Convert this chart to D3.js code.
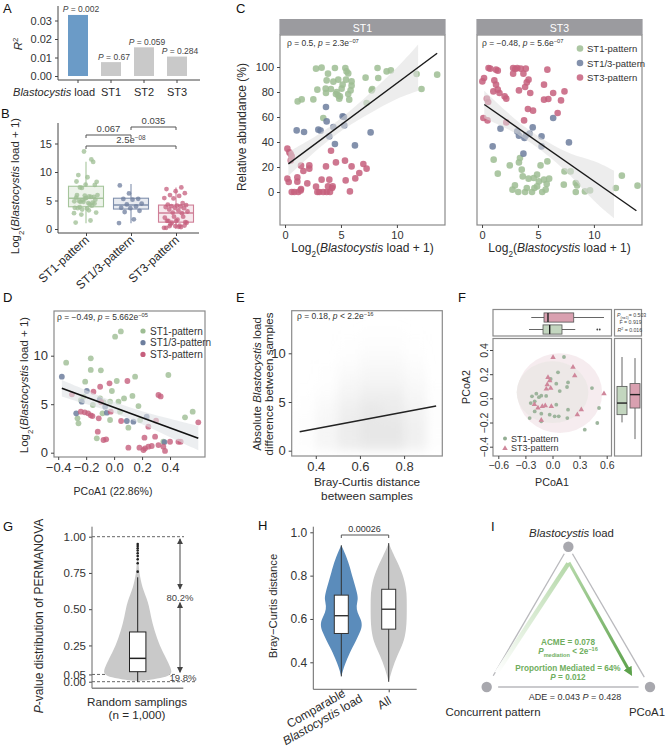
<!DOCTYPE html>
<html><head><meta charset="utf-8">
<script src="https://cdn.jsdelivr.net/npm/d3@7"></script>
<style>body{margin:0;background:#fff}</style>
</head><body>
<script>
const FONT = '"Liberation Sans", Arial, Helvetica, sans-serif'
const GREEN = "#9dbd93", BLUE = "#6d7e9e", RED = "#c65f7d"

// ---------- data ----------
// A
const aCats = ["Blastocystis load", "ST1", "ST2", "ST3"]
const aR2 = [0.033, 0.0075, 0.0155, 0.0105]
const aP = ["0.002", "0.67", "0.059", "0.284"]
// B
const bGroups = ["ST1-pattern", "ST1/3-pattern", "ST3-pattern"]
const bQ1 = [3.9, 3.5, 1.2], bMed = [5.4, 4.2, 2.8], bQ3 = [7.5, 5.4, 4.2]
const bLo = [1.0, 1.0, 0.0], bHi = [11.8, 7.9, 7.3]
const bComps = [[0, 1, "0.067"], [1, 2, "0.035"], [0, 2, "2.5e"]]
// C, facet ST1: [load, relative abundance]
const c1Green = [[2.77,98.7],[3.27,99.5],[3.84,94.7],[4.46,99.2],[5.39,99.2],[5.5,96.5],[5.65,94.9],[7.2,91.5],[8.27,99.2],[9.08,96.5],[9.46,97.3],[11.76,94.4],[13.6,93.9],[3.72,89.3],[4.32,88.3],[4.76,89.9],[5.15,85.9],[5.45,89.9],[5.95,88.5],[4.1,82.4],[5.06,82.7],[5.95,85.1],[4.55,78.4],[4.91,76.5],[5.65,78.4],[5.86,81.3],[1.13,72.5],[1.49,74.1],[2.53,74.1],[2.89,81.9],[3.63,82.7],[3.66,79.2],[4.61,80],[4.76,77.3],[4.85,74.7],[5.74,73.9],[7.29,71.2],[7.74,81.3],[7.8,82.4],[8.33,91.2],[12.2,82.4],[3.42,59.2]]
const c1Blue = [[1.04,49.3],[1.7,48],[2.98,49.9],[3.18,49.1],[3.66,68],[3.72,56.5],[3.96,44.5],[4.32,52],[4.46,38.4],[5.15,60.5],[5.27,60],[5.3,53.3],[6.25,37.3],[7.65,47.7]]
const c1Red = [[0.21,34.7],[0.39,31.7],[0.51,30.4],[0.6,28.5],[0.51,25.3],[0.21,10.7],[0.33,8],[1.1,11.7],[1.1,8.3],[1.64,16.8],[1.43,21.1],[2.17,21.3],[2.17,18.7],[1.99,6.9],[0.6,0],[0.83,0],[1.19,0],[1.4,1.3],[1.43,2.4],[2.77,4.3],[2.89,0],[3.07,0],[3.27,9.9],[3.42,0],[3.66,20.5],[3.72,0],[3.84,4.5],[3.96,9.9],[4.02,0],[4.2,3.2],[4.11,33],[4.26,4.5],[4.55,23.7],[5.36,25.1],[5.42,9.3],[5.8,0.5],[5.95,20.5],[6.28,10.9],[6.64,15.2],[7.0,22.4],[7.29,18.7]]
const c1Line = [[0.3, 22.5], [13.6, 111]]
const c1Band = [[0.3,13,32],[2,27,40.5],[4,42.5,51.7],[6,55,66],[8,65,82.5],[10,75,99],[11.9,81,118]]
// C, facet ST3
const c3Green = [[1.04,25.9],[1.41,14.7],[2.48,21.3],[3.3,23.7],[3.39,27.2],[3.55,17.9],[3.64,12.5],[4.16,10.7],[4.62,11.2],[4.92,13.9],[5.08,8.5],[5.84,24.5],[5.54,9.9],[5.78,6.4],[6.0,10.7],[5.23,21.3],[2.72,1.9],[2.94,5.3],[3.24,0],[3.85,0],[4.0,3.2],[4.47,0],[4.68,3.2],[4.92,4.5],[5.38,0],[5.69,1.9],[7.31,5.9],[7.37,16.5],[7.92,16.5],[8.38,7.2],[8.38,0],[9.2,0.5],[9.66,1.3],[11.96,3.2],[12.5,13.1],[13.9,5.1],[8.5,5.3]]
const c3Blue = [[1.65,50.7],[0.95,36.5],[3.15,48.5],[3.3,45.1],[3.79,43.2],[3.91,45.1],[4.25,46.7],[4.53,51.7],[5.32,44.5],[5.32,36.5],[3.7,30.7],[7.77,39.7],[6.36,59.2]]
const c3Red = [[0.58,99.2],[0.73,98.7],[1.25,97.9],[1.41,97.1],[0.18,91.2],[0.03,88.5],[1.1,89.3],[1.25,85.9],[1.01,80.5],[1.41,81.9],[1.56,79.2],[2.02,76.5],[2.17,74.7],[0.43,74.7],[0.55,72],[0.12,59.2],[0.49,57.3],[2.78,99.2],[2.97,98.4],[3.15,99.2],[3.46,98.7],[3.91,98.7],[2.78,94.7],[3.7,94.7],[4.0,87.7],[4.16,89.9],[3.3,81.3],[3.85,84],[4.31,79.2],[5.84,97.9],[5.54,85.9],[5.54,73.9],[5.93,74.4],[6.36,79.2],[7.06,73.3],[7.37,80.5],[6.76,63.2],[4.1,66.4],[4.56,65.1],[3.76,57.3],[2.17,55.7]]
const c3Line = [[0.2, 70], [13.8, -15]]
const c3Band = [[0.2,59,81],[2,52,65.5],[4,42,50.5],[6,28.5,39],[8,13,29.5],[10,-8,25.5],[11.8,-21,17]]
const legendNames = ["ST1-pattern", "ST1/3-pattern", "ST3-pattern"]
// D: [PCoA1, log2 load]
const dGreen = [[0.007,11.96],[0.048,12.5],[-0.343,9.28],[-0.167,9.73],[-0.167,8.53],[-0.095,8.49],[-0.207,7.32],[0.019,7.39],[0.15,7.84],[0.388,8.01],[-0.238,5.43],[-0.152,4.92],[-0.1,5.6],[-0.076,5.2],[-0.029,5.26],[0.031,5.26],[0.071,5.6],[0.131,5.85],[0.174,4.81],[-0.083,4.06],[-0.029,3.37],[-0.262,3.54],[-0.255,3.03],[-0.124,1.48],[0.102,2.58],[0.043,4.23],[0.186,3.37],[0.507,3.65],[0.562,4.23],[0.352,1.13],[-0.016,6.36],[-0.219,5.77]]
const dBlue = [[-0.374,7.84],[-0.195,6.36],[-0.231,5.26],[-0.271,4.06],[-0.105,5.43],[-0.064,4.74],[-0.052,4.13],[0.091,3.27],[0.138,3.2],[0.233,3.71],[0.36,1.1]]
const dRed = [[-0.302,6.02],[-0.238,4.23],[-0.21,4.16],[-0.186,4.06],[-0.167,3.85],[-0.155,3.78],[-0.1,6.8],[-0.033,7.15],[0.095,7.39],[-0.148,6.29],[-0.093,5.2],[-0.11,3.54],[-0.117,2.17],[-0.076,1.31],[-0.057,1.38],[0.05,3.27],[-0.024,4.23],[0.102,0.52],[0.181,0.52],[0.21,0.28],[0.221,0.45],[0.245,0.62],[0.269,0.69],[0.317,0.79],[0.352,0.62],[0.364,0.18],[0.217,1.55],[0.293,1.65],[0.4,1.13],[0.46,1.13],[0.476,1.13],[0.317,5.95],[0.333,5.8],[0.3,3.3],[0.245,2.68],[0.602,3.13]]
const dLine = [[-0.374, 6.64], [0.602, 1.48]]
const dBand = [[-0.374,5.8,7.5],[-0.2,5.0,6.45],[0,4.15,5.2],[0.2,2.95,4.25],[0.4,1.6,3.5],[0.602,0.25,2.75]]
// E: density of the pairwise cloud, rows y = 0.5 .. 12.5, columns x = 0.35 .. 0.95
const eXc = [0.35, 0.45, 0.55, 0.65, 0.75, 0.85, 0.95]
const eYc = [0.5, 1.5, 2.5, 3.5, 4.5, 5.5, 6.5, 7.5, 8.5, 9.5, 10.5, 11.5, 12.5]
const eDens = [
  [0.25,0.6,0.85,0.95,0.95,0.75,0.25],
  [0.3,0.65,0.9,1,1,0.8,0.3],
  [0.3,0.6,0.9,1,1,0.8,0.3],
  [0.25,0.55,0.85,1,0.95,0.75,0.25],
  [0.2,0.5,0.8,0.95,0.9,0.7,0.25],
  [0.15,0.4,0.7,0.85,0.85,0.6,0.2],
  [0.1,0.3,0.6,0.75,0.75,0.55,0.15],
  [0.05,0.2,0.5,0.65,0.65,0.45,0.1],
  [0.05,0.15,0.4,0.55,0.55,0.4,0.1],
  [0,0.1,0.3,0.45,0.45,0.3,0.05],
  [0,0.05,0.2,0.35,0.35,0.2,0.05],
  [0,0,0.15,0.3,0.3,0.15,0],
  [0,0,0.1,0.2,0.2,0.1,0]]
const eLine = [[0.327, 1.95], [0.945, 4.6]]
// F: [PCoA1, PCoA2]
const fST1 = [[0.127,0.342],[0.061,0.215],[0.172,0.132],[0.161,0.094],[0.042,0.121],[0.437,0.085],[-0.179,0.039],[-0.124,0.022],[-0.227,0.017],[-0.241,-0.039],[-0.197,-0.025],[-0.15,0.01],[-0.07,0.02],[0.042,-0.052],[0.172,-0.094],[0.515,-0.08],[-0.197,-0.108],[-0.124,-0.127],[-0.031,-0.135],[0.024,-0.149],[0.069,-0.149],[-0.253,-0.163],[-0.124,-0.19],[0.164,-0.163],[0.357,-0.259],[0.496,-0.204],[-0.02,0.16],[0.08,0.06]]
const fST3 = [[0.006,0.339],[0.227,0.259],[-0.05,0.174],[-0.031,0.146],[-0.058,0.113],[-0.02,0.085],[-0.069,0.077],[0.246,0.188],[0.57,0.039],[-0.161,-0.08],[-0.113,-0.066],[-0.08,-0.06],[-0.013,-0.066],[0.319,-0.094],[0.275,-0.135],[-0.124,-0.18],[-0.2,-0.05]]
const fEllipses = [[0.08, 0.044, 0.47, 0.33, "#f6ebee"], [0.0, 0.051, 0.397, 0.255, "#ece8e6"]]
const fTopBox = [[-0.105,-0.031,0.105,-0.26,0.252], [-0.094,-0.05,0.235,-0.235,0.57]]
const fTopOut = [0.496, 0.523]
const fRightBox = [[-0.135,-0.039,0.099,-0.199,0.342], [-0.08,0.031,0.122,-0.337,0.333]]
const fStats = ["= 0.503", "F = 0.919", "= 0.016"]
// G
const gDens = [[0.005,0],[0.012,0.35],[0.03,0.8],[0.05,0.97],[0.07,1.0],[0.1,0.96],[0.15,0.86],[0.2,0.75],[0.25,0.65],[0.3,0.57],[0.35,0.5],[0.4,0.44],[0.45,0.39],[0.5,0.35],[0.55,0.3],[0.6,0.22],[0.65,0.14],[0.7,0.09],[0.75,0.05],[0.8,0.03],[0.85,0.02],[0.9,0.012],[0.95,0]]
const gBox = [0.069, 0.161, 0.343, 0.0, 0.72]
const gOut = [0.95, 0.936, 0.92, 0.905, 0.886, 0.867, 0.844, 0.817, 0.759]
const gArrows = [[0.985, 0.64], [0.545, 0.065]]
// H
const hCats = ["Comparable", "All"]
const hDensBlue = [[0.335,0],[0.37,0.1],[0.4,0.21],[0.46,0.48],[0.5,0.7],[0.54,0.9],[0.572,1.0],[0.6,0.93],[0.63,0.76],[0.66,0.71],[0.69,0.8],[0.72,0.76],[0.78,0.57],[0.85,0.38],[0.9,0.19],[0.94,0]]
const hDensGray = [[0.31,0],[0.37,0.17],[0.43,0.4],[0.49,0.71],[0.55,0.83],[0.6,0.86],[0.66,0.86],[0.72,0.86],[0.77,0.77],[0.82,0.62],[0.88,0.32],[0.92,0.13],[0.95,0]]
const hBoxes = [[0.533, 0.615, 0.71, 0.335, 0.94], [0.553, 0.645, 0.737, 0.31, 0.95]]
// I: nodes in unit coordinates
const iNodes = [["top", 0.5, 1], ["left", 0, 0], ["right", 1, 0]]
const iArrow = [[0.06, 0.1], [0.5, 0.88], [0.88, 0.1]]

// ---------- helpers ----------
const svg = d3.select("body").append("svg").attr("width", 666).attr("height", 748)
  .style("font-family", FONT)
const defs = svg.append("defs")

function T(p, x, y, fs, o = {}) {
  const t = p.append("text").attr("x", x).attr("y", y).attr("font-size", fs).attr("fill", o.fill || "#2a2a2a")
  if (o.anchor) t.attr("text-anchor", o.anchor)
  if (o.rotate) t.attr("transform", `rotate(${o.rotate},${x},${y})`)
  if (o.weight) t.attr("font-weight", o.weight)
  return t
}
function rich(t, parts) {
  parts.forEach(p => {
    const [s, k] = typeof p === "string" ? [p, ""] : p
    const ts = t.append("tspan").text(s)
    if (k === "i") ts.attr("font-style", "italic")
    if (k === "sub") ts.attr("font-size", "68%").attr("baseline-shift", "sub")
    if (k === "sup") ts.attr("font-size", "68%").attr("baseline-shift", "super")
  })
  return t
}
function axis(g, ax, fs) {
  g.call(ax)
  g.attr("font-family", FONT).attr("font-size", fs)
  g.select(".domain").remove()
  g.selectAll(".tick line").attr("stroke", "#444")
  g.selectAll(".tick text").attr("fill", "#333")
  return g
}
function seg(p, x1, y1, x2, y2, c = "#444", w = 1) {
  return p.append("line").attr("x1", x1).attr("y1", y1).attr("x2", x2).attr("y2", y2).attr("stroke", c).attr("stroke-width", w)
}
function frame(p, x0, y0, x1, y1) {
  p.append("rect").attr("x", x0).attr("y", y0).attr("width", x1 - x0).attr("height", y1 - y0)
    .attr("fill", "none").attr("stroke", "#8a8a8a").attr("stroke-width", 1.2)
}
function dots(p, data, x, y, col, r, op) {
  p.append("g").selectAll("circle").data(data).join("circle")
    .attr("cx", d => x(d[0])).attr("cy", d => y(d[1])).attr("r", r).attr("fill", col).attr("opacity", op)
}
const letters = [["A", 3, 13], ["B", 1, 118], ["C", 236, 13], ["D", 3, 302], ["E", 236, 302], ["F", 458, 302], ["G", 3, 531], ["H", 258, 530], ["I", 491, 531]]
letters.forEach(l => T(svg, l[1], l[2], 13, { fill: "#111" }).text(l[0]))

// ---------- A ----------
{
  const g = svg.append("g")
  const x = d3.scaleBand().domain(aCats).range([61.5, 193.5]).paddingInner(0.394).paddingOuter(0.197)
  const y = d3.scaleLinear().domain([-0.00216, 0.0373]).range([80, 7])
  g.selectAll("rect").data(aCats).join("rect")
    .attr("x", d => x(d)).attr("width", x.bandwidth())
    .attr("y", (d, i) => y(aR2[i])).attr("height", (d, i) => y(0) - y(aR2[i]))
    .attr("fill", (d, i) => i ? "#c9c9c9" : "#6b9bc7")
  axis(g.append("g").attr("transform", "translate(58,0)"),
    d3.axisLeft(y).tickValues([0, .01, .02, .03]).tickFormat(d3.format(".2f")).tickSize(3), 11)
  axis(g.append("g").attr("transform", "translate(0,80)"), d3.axisBottom(x).tickSize(3).tickFormat(""), 11)
  seg(g, 58, 6, 58, 80); seg(g, 58, 80, 200, 80)
  aCats.forEach((c, i) => {
    const cx = x(c) + x.bandwidth() / 2
    rich(T(g, cx + 3, y(aR2[i]) - 2.5, 8.5, { anchor: "middle", fill: "#444" }), [["P", "i"], " = " + aP[i]])
    if (i === 0) rich(T(g, 95, 96, 11, { anchor: "end" }), [["Blastocystis", "i"], " load"])
    else T(g, cx, 96, 11, { anchor: "middle" }).text(c)
  })
  rich(T(g, 22, 44, 11.5, { anchor: "middle", rotate: -90 }), [["R", "i"], ["2", "sup"]])
}

// ---------- B ----------
{
  const g = svg.append("g")
  const x = d3.scalePoint().domain(bGroups).range([86, 176])
  const y = d3.scaleLinear().domain([0, 15]).range([229, 143.5])
  const cols = [GREEN, BLUE, RED], fills = ["#edf3ea", "#e8ebf1", "#f7e8ed"], strokes = ["#a6c59c", "#8090ad", "#cf7f97"]
  const groups = [c1Green, c1Blue, c1Red]
  bGroups.forEach((name, i) => {
    const cx = x(name), w = 17.5
    seg(g, cx, y(bHi[i]), cx, y(bQ3[i]), strokes[i], 1.1)
    seg(g, cx, y(bQ1[i]), cx, y(bLo[i]), strokes[i], 1.1)
    g.append("rect").attr("x", cx - w).attr("width", 2 * w).attr("y", y(bQ3[i])).attr("height", y(bQ1[i]) - y(bQ3[i]))
      .attr("fill", fills[i]).attr("stroke", strokes[i]).attr("stroke-width", 1.1)
    seg(g, cx - w, y(bMed[i]), cx + w, y(bMed[i]), strokes[i], 1.4)
    g.append("g").selectAll("circle").data(groups[i]).join("circle")
      .attr("cx", (d, j) => cx + ((j * 0.618034) % 1 - 0.5) * 24)
      .attr("cy", d => y(d[0])).attr("r", 2.4).attr("fill", cols[i]).attr("opacity", 0.75)
  })
  axis(g.append("g").attr("transform", "translate(58,0)"), d3.axisLeft(y).tickValues([0, 5, 10, 15]).tickSize(3), 11)
  axis(g.append("g").attr("transform", "translate(0,233)"), d3.axisBottom(x).tickSize(3).tickFormat(""), 11)
  seg(g, 58, 123, 58, 233); seg(g, 58, 233, 199, 233)
  bGroups.forEach(n => T(g, x(n) + 4, 241, 12, { anchor: "end", rotate: -42 }).text(n))
  const by = [135, 127, 146], ly = [131.5, 123.8, 143]
  bComps.forEach((c, i) => {
    const x1 = x(bGroups[c[0]]), x2 = x(bGroups[c[1]])
    g.append("path").attr("d", `M${x1},${by[i] + 3}V${by[i]}H${x2}V${by[i] + 3}`).attr("fill", "none").attr("stroke", "#555").attr("stroke-width", 1)
    const t = T(g, (x1 + x2) / 2, ly[i], 9.5, { anchor: "middle", fill: "#444" })
    if (i === 2) rich(t, [c[2], ["−08", "sup"]]); else t.text(c[2])
  })
  rich(T(g, 19, 186, 11.5, { anchor: "middle", rotate: -90 }), ["Log", ["2", "sub"], "(", ["Blastocystis", "i"], " load + 1)"])
}

// ---------- C ----------
{
  const g = svg.append("g")
  const y = d3.scaleLinear().domain([0, 100]).range([192, 67])
  const facets = [
    { x0: 280, x1: 445, name: "ST1", pts: [c1Green, c1Blue, c1Red], line: c1Line, band: c1Band },
    { x0: 477, x1: 642, name: "ST3", pts: [c3Green, c3Blue, c3Red], line: c3Line, band: c3Band }]
  const cols = [GREEN, BLUE, RED]
  facets.forEach((f, k) => {
    const x = d3.scaleLinear().domain([-0.45, 14.3]).range([f.x0, f.x1])
    const p = g.append("g")
    p.append("defs").append("clipPath").attr("id", "clipC" + k).append("rect").attr("x", f.x0).attr("y", 35).attr("width", f.x1 - f.x0).attr("height", 190)
    const inner = p.append("g").attr("clip-path", `url(#clipC${k})`)
    f.pts.forEach((pts, i) => dots(inner, pts, x, y, cols[i], 3.3, 0.85))
    inner.append("path").datum(f.band).attr("fill", "#dedede").attr("opacity", 0.55)
      .attr("d", d3.area().x(d => x(d[0])).y0(d => y(d[1])).y1(d => y(d[2])).curve(d3.curveBasis))
    inner.append("path").datum(f.line).attr("stroke", "#1a1a1a").attr("stroke-width", 1.4).attr("fill", "none")
      .attr("d", d3.line().x(d => x(d[0])).y(d => y(d[1])))
    frame(p, f.x0, 35, f.x1, 225)
    p.append("rect").attr("x", f.x0 - 0.6).attr("y", 19).attr("width", f.x1 - f.x0 + 1.2).attr("height", 16).attr("fill", "#9b9b9f")
    T(p, (f.x0 + f.x1) / 2, 31.5, 10.5, { anchor: "middle", fill: "#fff" }).text(f.name)
    axis(p.append("g").attr("transform", "translate(0,225)"), d3.axisBottom(x).tickValues([0, 5, 10]).tickSize(3), 11)
    rich(T(p, (f.x0 + f.x1) / 2, 252, 12, { anchor: "middle" }), ["Log", ["2", "sub"], "(", ["Blastocystis", "i"], " load + 1)"])
    if (k === 0) {
      axis(p.append("g").attr("transform", `translate(${f.x0},0)`), d3.axisLeft(y).tickValues([0, 20, 40, 60, 80, 100]).tickSize(3), 11)
      rich(T(p, f.x0 + 7, 46, 8.5, { fill: "#333" }), ["ρ = 0.5, ", ["p", "i"], " = 2.3e", ["−07", "sup"]])
    } else {
      rich(T(p, f.x0 + 5, 46, 8.5, { fill: "#333" }), ["ρ = −0.48, ", ["p", "i"], " = 5.6e", ["−07", "sup"]])
      legendNames.forEach((n, i) => {
        p.append("circle").attr("cx", 580).attr("cy", 48.5 + i * 14.5).attr("r", 3.3).attr("fill", cols[i]).attr("opacity", 0.85)
        T(p, 587, 52 + i * 14.5, 9.5, { fill: "#333" }).text(n)
      })
    }
  })
  T(g, 246, 127, 12, { anchor: "middle", rotate: -90 }).text("Relative abundance (%)")
}

// ---------- D ----------
{
  const g = svg.append("g")
  const x = d3.scaleLinear().domain([-0.43, 0.65]).range([54, 205])
  const y = d3.scaleLinear().domain([0, 10]).range([452.7, 355.7])
  g.append("defs").append("clipPath").attr("id", "clipD").append("rect").attr("x", 54).attr("y", 311).attr("width", 151).attr("height", 146)
  const inner = g.append("g").attr("clip-path", "url(#clipD)")
  dots(inner, dGreen, x, y, GREEN, 2.9, 0.8)
  dots(inner, dBlue, x, y, BLUE, 2.9, 0.85)
  dots(inner, dRed, x, y, RED, 2.9, 0.8)
  inner.append("path").datum(dBand).attr("fill", "#dfe3e6").attr("opacity", 0.6)
    .attr("d", d3.area().x(d => x(d[0])).y0(d => y(d[1])).y1(d => y(d[2])).curve(d3.curveBasis))
  inner.append("path").datum(dLine).attr("stroke", "#111").attr("stroke-width", 1.6)
    .attr("d", d3.line().x(d => x(d[0])).y(d => y(d[1])))
  frame(g, 54, 311, 205, 457)
  axis(g.append("g").attr("transform", "translate(0,457)"), d3.axisBottom(x).tickValues([-0.4, -0.2, 0, 0.2, 0.4]).tickFormat(d3.format(".1f")).tickSize(3), 13)
  axis(g.append("g").attr("transform", "translate(54,0)"), d3.axisLeft(y).tickValues([0, 5, 10]).tickSize(3), 13)
  rich(T(g, 57, 320, 8.5, { fill: "#333" }), ["ρ = −0.49, ", ["p", "i"], " = 5.662e", ["−05", "sup"]])
  const cols = [GREEN, BLUE, RED]
  legendNames.forEach((n, i) => {
    g.append("circle").attr("cx", 143).attr("cy", 331 + i * 11.7).attr("r", 2.6).attr("fill", cols[i])
    T(g, 150, 334.5 + i * 11.7, 10, { fill: "#333" }).text(n)
  })
  T(g, 113, 495, 10.5, { anchor: "middle" }).text("PCoA1 (22.86%)")
  rich(T(g, 28, 385, 11.5, { anchor: "middle", rotate: -90 }), ["Log", ["2", "sub"], "(", ["Blastocystis", "i"], " load + 1)"])
}

// ---------- E ----------
{
  const g = svg.append("g")
  const x = d3.scaleLinear().domain([0.291, 0.973]).range([291.7, 442.3])
  const y = d3.scaleLinear().domain([0, 10]).range([450.7, 353.3])
  defs.append("filter").attr("id", "blurE").attr("x", "-20%").attr("y", "-20%").attr("width", "140%").attr("height", "140%")
    .append("feGaussianBlur").attr("stdDeviation", 5)
  g.append("defs").append("clipPath").attr("id", "clipE").append("rect").attr("x", 291.7).attr("y", 310.7).attr("width", 150.6).attr("height", 145.3)
  const inner = g.append("g").attr("clip-path", "url(#clipE)")
  const cloud = inner.append("g").attr("filter", "url(#blurE)")
  eDens.forEach((row, r) => row.forEach((v, c) => {
    cloud.append("rect").attr("x", x(eXc[c] - 0.05)).attr("width", x(eXc[c] + 0.05) - x(eXc[c] - 0.05))
      .attr("y", y(eYc[r] + 0.5)).attr("height", y(eYc[r] - 0.5) - y(eYc[r] + 0.5))
      .attr("fill", "#e3e3e3").attr("opacity", v * v * 0.85)
  }))
  inner.append("path").datum(eLine).attr("stroke", "#222").attr("stroke-width", 1.5)
    .attr("d", d3.line().x(d => x(d[0])).y(d => y(d[1])))
  frame(g, 291.7, 310.7, 442.3, 456)
  axis(g.append("g").attr("transform", "translate(0,456)"), d3.axisBottom(x).tickValues([0.4, 0.6, 0.8]).tickFormat(d3.format(".1f")).tickSize(3), 13)
  axis(g.append("g").attr("transform", "translate(291.7,0)"), d3.axisLeft(y).tickValues([0, 5, 10]).tickSize(3), 13)
  rich(T(g, 297, 319, 8.5, { fill: "#333" }), ["ρ = 0.18, ", ["p", "i"], " < 2.2e", ["−16", "sup"]])
  T(g, 367, 486, 11.8, { anchor: "middle" }).text("Bray-Curtis distance")
  T(g, 367, 500, 11.8, { anchor: "middle" }).text("between samples")
  const yl = g.append("g").attr("transform", "translate(265,384) rotate(-90)")
  rich(T(yl, 0, -4, 11.5, { anchor: "middle" }), ["Absolute ", ["Blastocystis", "i"], " load"])
  T(yl, 0, 8, 11.5, { anchor: "middle" }).text("difference between samples")
}

// ---------- F ----------
{
  const g = svg.append("g")
  const X0 = 493, X1 = 611.5, Y0 = 338.5, Y1 = 456
  const x = d3.scaleLinear().domain([-0.6, 0.6]).range([498.3, 606.7])
  const y = d3.scaleLinear().domain([-0.4, 0.4]).range([446.7, 350])
  g.append("defs").append("clipPath").attr("id", "clipF").append("rect").attr("x", X0).attr("y", Y0).attr("width", X1 - X0).attr("height", Y1 - Y0)
  const inner = g.append("g").attr("clip-path", "url(#clipF)")
  fEllipses.forEach(e => inner.append("ellipse").attr("cx", x(e[0])).attr("cy", y(e[1]))
    .attr("rx", x(e[0] + e[2]) - x(e[0])).attr("ry", y(e[1]) - y(e[1] + e[3])).attr("fill", e[4]).attr("opacity", 0.95))
  dots(inner, fST1, x, y, "#93ae93", 1.9, 0.9)
  inner.append("g").selectAll("path").data(fST3).join("path")
    .attr("transform", d => `translate(${x(d[0])},${y(d[1])})`)
    .attr("d", d3.symbol(d3.symbolTriangle, 13)).attr("fill", "#cf879b")
  frame(g, X0, Y0, X1, Y1)
  axis(g.append("g").attr("transform", `translate(0,${Y1})`), d3.axisBottom(x).tickValues([-0.6, -0.3, 0, 0.3, 0.6]).tickFormat(d3.format(".1f")).tickSize(3), 10.5)
  const ya = axis(g.append("g").attr("transform", `translate(${X0},0)`), d3.axisLeft(y).tickValues([-0.4, -0.2, 0, 0.2, 0.4]).tickFormat(d3.format(".1f")).tickSize(3), 10.5)
  ya.selectAll(".tick text").attr("x", 0).attr("y", -5).attr("dy", 0).attr("text-anchor", "middle").attr("transform", "rotate(-90)")
  // legend
  g.append("circle").attr("cx", 505).attr("cy", 438.5).attr("r", 2).attr("fill", "#93ae93")
  g.append("path").attr("transform", "translate(505,448.3)").attr("d", d3.symbol(d3.symbolTriangle, 13)).attr("fill", "#cf879b")
  T(g, 511, 441.5, 9, { fill: "#333" }).text("ST1-pattern")
  T(g, 511, 451.3, 9, { fill: "#333" }).text("ST3-pattern")
  // top marginal boxplots
  frame(g, X0, 309.5, X1, 336)
  const topY = [329.5, 317.5], bcols = [["#c3d6bf", "#6d8a6a"], ["#d9a0b0", "#8a4a5d"]]
  fTopBox.forEach((b, i) => {
    const cy = topY[i]
    seg(g, x(b[3]), cy, x(b[0]), cy, "#555", 0.9); seg(g, x(b[2]), cy, x(b[4]), cy, "#555", 0.9)
    g.append("rect").attr("x", x(b[0])).attr("width", x(b[2]) - x(b[0])).attr("y", cy - 4.6).attr("height", 9.2)
      .attr("fill", bcols[i][0]).attr("stroke", "#555").attr("stroke-width", 0.8)
    seg(g, x(b[1]), cy - 4.6, x(b[1]), cy + 4.6, "#222", 1.4)
  })
  fTopOut.forEach(v => g.append("circle").attr("cx", x(v)).attr("cy", 329.5).attr("r", 0.9).attr("fill", "#444"))
  // right marginal boxplots
  frame(g, 614.5, Y0, 641.5, Y1)
  const rightX = [622, 635]
  fRightBox.forEach((b, i) => {
    const cx = rightX[i]
    seg(g, cx, y(b[3]), cx, y(b[0]), "#555", 0.9); seg(g, cx, y(b[2]), cx, y(b[4]), "#555", 0.9)
    g.append("rect").attr("x", cx - 5).attr("width", 10).attr("y", y(b[2])).attr("height", y(b[0]) - y(b[2]))
      .attr("fill", bcols[i][0]).attr("stroke", "#555").attr("stroke-width", 0.8)
    seg(g, cx - 5, y(b[1]), cx + 5, y(b[1]), "#222", 1.4)
  })
  // stats box
  frame(g, 614.5, 309.5, 641.5, 336)
  rich(T(g, 617, 316.5, 5.2, { fill: "#444" }), [["P", "i"], ["(n=1)", "sub"], fStats[0]])
  T(g, 619.5, 324, 5.2, { fill: "#444" }).text(fStats[1])
  rich(T(g, 617.5, 331.5, 5.2, { fill: "#444" }), [["R", "i"], ["2", "sup"], " " + fStats[2]])
  T(g, 552, 486, 10.7, { anchor: "middle" }).text("PCoA1")
  T(g, 470, 387, 10.7, { anchor: "middle", rotate: -90 }).text("PCoA2")
}

// ---------- G ----------
{
  const g = svg.append("g")
  const y = d3.scaleLinear().domain([0, 1]).range([681.7, 536.7])
  const cx = 137.7
  const w = d3.scaleLinear().domain([0, 1]).range([0, 34])
  const dash = (v, x2) => seg(g, 92, y(v), x2, y(v), "#555", 0.9).attr("stroke-dasharray", "3,2")
  dash(0.05, 176)
  g.append("path").datum(gDens).attr("fill", "#c9c9c9")
    .attr("d", d3.area().y(d => y(d[0])).x0(d => cx - w(d[1])).x1(d => cx + w(d[1])).curve(d3.curveBasis))
  dash(1, 184); dash(0, 196)
  seg(g, cx, y(gBox[4]), cx, y(gBox[3]), "#222", 1)
  g.append("rect").attr("x", cx - 8.2).attr("width", 16.4).attr("y", y(gBox[2])).attr("height", y(gBox[0]) - y(gBox[2]))
    .attr("fill", "#fff").attr("stroke", "#222").attr("stroke-width", 1)
  seg(g, cx - 8.2, y(gBox[1]), cx + 8.2, y(gBox[1]), "#222", 1.5)
  gOut.forEach(v => g.append("circle").attr("cx", cx).attr("cy", y(v)).attr("r", 1.3).attr("fill", "#222"))
  defs.append("marker").attr("id", "ahG").attr("viewBox", "0 0 8 8").attr("refX", 7).attr("refY", 4)
    .attr("markerWidth", 6).attr("markerHeight", 6).attr("orient", "auto-start-reverse")
    .append("path").attr("d", "M0,0L8,4L0,8z").attr("fill", "#444")
  gArrows.forEach(a => seg(g, 180, y(a[0]), 180, y(a[1]), "#444", 1)
    .attr("marker-start", "url(#ahG)").attr("marker-end", "url(#ahG)"))
  T(g, 180, 601, 9.5, { anchor: "middle", fill: "#444" }).text("80.2%")
  T(g, 183, 681, 9.5, { anchor: "middle", fill: "#444" }).text("19.8%")
  axis(g.append("g").attr("transform", "translate(92,0)"), d3.axisLeft(y).tickValues([0, 0.05, 0.25, 0.5, 0.75, 1]).tickFormat(d3.format(".2f")).tickSize(3), 11.5)
  seg(g, 92, 526.7, 92, 688.3, "#666", 1); seg(g, 92, 688.3, 183.3, 688.3, "#888", 1.6)
  T(g, 137, 706, 11.7, { anchor: "middle" }).text("Random samplings")
  T(g, 137, 719, 11.7, { anchor: "middle" }).text("(n = 1,000)")
  rich(T(g, 43, 616, 12, { anchor: "middle", rotate: -90 }), [["P", "i"], "-value distribution of PERMANOVA"])
}

// ---------- H ----------
{
  const g = svg.append("g")
  const y = d3.scaleLinear().domain([0.4, 1.0]).range([662.3, 532.3])
  const x = d3.scalePoint().domain(hCats).range([341.3, 388.7])
  const w = d3.scaleLinear().domain([0, 1]).range([0, 21])
  const dens = [hDensBlue, hDensGray], fills = ["#5b8cbb", "#c9c9c9"]
  hCats.forEach((c, i) => {
    const cx = x(c), b = hBoxes[i]
    g.append("path").datum(dens[i]).attr("fill", fills[i])
      .attr("d", d3.area().y(d => y(d[0])).x0(d => cx - w(d[1])).x1(d => cx + w(d[1])).curve(d3.curveBasis))
    seg(g, cx, y(b[4]), cx, y(b[3]), "#333", 1)
    g.append("rect").attr("x", cx - 7).attr("width", 14).attr("y", y(b[2])).attr("height", y(b[0]) - y(b[2]))
      .attr("fill", "#fff").attr("stroke", "#333").attr("stroke-width", 1)
    seg(g, cx - 7, y(b[1]), cx + 7, y(b[1]), "#333", 1.4)
  })
  axis(g.append("g").attr("transform", "translate(313.3,0)"), d3.axisLeft(y).tickValues([0.4, 0.6, 0.8, 1.0]).tickFormat(d3.format(".1f")).tickSize(3), 12)
  axis(g.append("g").attr("transform", "translate(0,689.3)"), d3.axisBottom(x).tickSize(3).tickFormat(""), 12)
  seg(g, 313.3, 526.7, 313.3, 689.3, "#666", 1); seg(g, 313.3, 689.3, 416.7, 689.3, "#666", 1)
  g.append("path").attr("d", `M${x(hCats[0])},538V535H${x(hCats[1])}V538`).attr("fill", "none").attr("stroke", "#555")
  T(g, 364.5, 532, 9, { anchor: "middle", fill: "#333" }).text("0.00026")
  const lab = g.append("g").attr("transform", "translate(318,712) rotate(-30)")
  T(lab, 0, 0, 12, { anchor: "middle" }).text("Comparable")
  rich(T(lab, 0, 13, 12, { anchor: "middle" }), [["Blastocystis", "i"], " load"])
  T(g, 392, 703, 12, { anchor: "end", rotate: -30 }).text("All")
  T(g, 277, 606, 11.3, { anchor: "middle", rotate: -90 }).text("Bray−Curtis distance")
}

// ---------- I ----------
{
  const g = svg.append("g")
  const x = d3.scaleLinear().domain([0, 1]).range([486.7, 650])
  const y = d3.scaleLinear().domain([0, 1]).range([687, 546.7])
  const node = n => iNodes.find(d => d[0] === n)
  const pt = (a, b, t) => [x(a[1] + (b[1] - a[1]) * t), y(a[2] + (b[2] - a[2]) * t)]
  const edge = (a, b, t0, t1) => { const p = pt(node(a), node(b), t0), q = pt(node(a), node(b), t1); seg(g, p[0], p[1], q[0], q[1], "#b9b9bd", 1.3) }
  edge("left", "top", 0.08, 0.95); edge("top", "right", 0.05, 0.93); edge("left", "right", 0.07, 0.93)
  const A = iArrow.map(d => [x(d[0]), y(d[1])])
  const gr1 = defs.append("linearGradient").attr("id", "grL").attr("gradientUnits", "userSpaceOnUse")
    .attr("x1", A[0][0]).attr("y1", A[0][1]).attr("x2", A[1][0]).attr("y2", A[1][1])
  gr1.append("stop").attr("offset", 0).attr("stop-color", "#ffffff")
  gr1.append("stop").attr("offset", 1).attr("stop-color", "#b5d8a9")
  const gr2 = defs.append("linearGradient").attr("id", "grR").attr("gradientUnits", "userSpaceOnUse")
    .attr("x1", A[1][0]).attr("y1", A[1][1]).attr("x2", A[2][0]).attr("y2", A[2][1])
  gr2.append("stop").attr("offset", 0).attr("stop-color", "#b5d8a9")
  gr2.append("stop").attr("offset", 1).attr("stop-color", "#5da24c")
  defs.append("marker").attr("id", "ahI").attr("viewBox", "0 0 8 8").attr("refX", 5).attr("refY", 4)
    .attr("markerWidth", 3).attr("markerHeight", 3).attr("orient", "auto")
    .append("path").attr("d", "M0,0L8,4L0,8z").attr("fill", "#5da24c")
  seg(g, A[0][0], A[0][1], A[1][0], A[1][1], "url(#grL)", 4.5)
  seg(g, A[1][0] + 0.6, A[1][1] - 1, A[2][0], A[2][1], "url(#grR)", 3).attr("marker-end", "url(#ahI)")
  iNodes.forEach(n => g.append("circle").attr("cx", x(n[1])).attr("cy", y(n[2])).attr("r", 5.2).attr("fill", "#a8a8ae"))
  rich(T(g, 571.5, 536.5, 11.4, { anchor: "middle" }), [["Blastocystis", "i"], " load"])
  T(g, 493, 715.5, 11.4, { anchor: "middle" }).text("Concurrent  pattern")
  T(g, 647, 715.5, 11.4, { anchor: "middle" }).text("PCoA1")
  const GT = "#6fae5e"
  T(g, 568, 644.5, 8.2, { anchor: "middle", fill: GT, weight: "bold" }).text("ACME = 0.078")
  rich(T(g, 568, 654, 8.2, { anchor: "middle", fill: GT, weight: "bold" }), [["P", "i"], ["mediation", "sub"], " < 2e", ["−16", "sup"]])
  T(g, 568, 670.5, 8.2, { anchor: "middle", fill: GT, weight: "bold" }).text("Proportion Mediated = 64%")
  rich(T(g, 568, 679.5, 8.2, { anchor: "middle", fill: GT, weight: "bold" }), [["P", "i"], " = 0.012"])
  rich(T(g, 575, 699.5, 9, { anchor: "middle", fill: "#333" }), ["ADE = 0.043 ", ["P", "i"], " = 0.428"])
}
</script>
</body></html>
